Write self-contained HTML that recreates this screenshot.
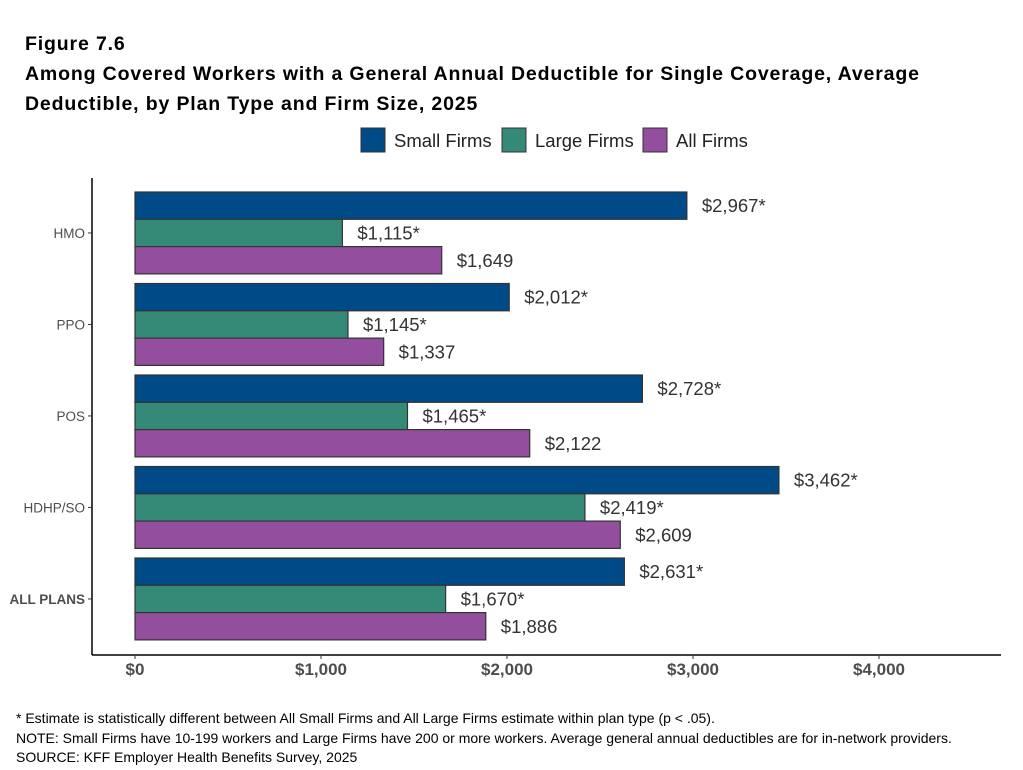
<!DOCTYPE html>
<html><head><meta charset="utf-8"><style>
body{margin:0;background:#fff;font-family:"Liberation Sans",Arial,sans-serif;}
#wrap{position:relative;width:1023px;height:770px;overflow:hidden;}
.t{position:absolute;left:25px;font-weight:bold;font-size:19.5px;letter-spacing:0.85px;color:#000;}
.note{position:absolute;left:16px;font-size:14px;color:#000;}
</style></head><body>
<div id="wrap">
<div class="t" style="top:33px">Figure 7.6</div>
<div class="t" style="top:63px">Among Covered Workers with a General Annual Deductible for Single Coverage, Average</div>
<div class="t" style="top:93px">Deductible, by Plan Type and Firm Size, 2025</div>
<svg id="chart" width="1023" height="770" style="position:absolute;left:0;top:0"></svg>
<div class="note" style="top:710px">* Estimate is statistically different between All Small Firms and All Large Firms estimate within plan type (p &lt; .05).</div>
<div class="note" style="top:730px">NOTE: Small Firms have 10-199 workers and Large Firms have 200 or more workers. Average general annual deductibles are for in-network providers.</div>
<div class="note" style="top:749px">SOURCE: KFF Employer Health Benefits Survey, 2025</div>
</div>
<script>
const categories=["HMO","PPO","POS","HDHP/SO","ALL PLANS"];
const seriesNames=["Small Firms","Large Firms","All Firms"];
const small=[2967,2012,2728,3462,2631];
const large=[1115,1145,1465,2419,1670];
const all=[1649,1337,2122,2609,1886];
const smallSig=[true,true,true,true,true];
const largeSig=[true,true,true,true,true];
const allSig=[false,false,false,false,false];
const xTicks=[0,1000,2000,3000,4000];
const xTickLabels=["$0","$1,000","$2,000","$3,000","$4,000"];
const colors=["#004a87","#348a77","#934f9e"];
const NS="http://www.w3.org/2000/svg";
const svg=document.getElementById('chart');
const x0=135,pxPer=0.186;
const xs=v=>x0+v*pxPer;
const top0=192,pitch=91.5,barH=27.3;
function mk(t,a){const e=document.createElementNS(NS,t);for(const k in a)e.setAttribute(k,a[k]);svg.appendChild(e);return e;}
let ax=mk('line',{x1:92,y1:178,x2:92,y2:655,stroke:'#000','stroke-width':1.5});


ax=mk('line',{x1:92,y1:655,x2:1001,y2:655,stroke:'#000','stroke-width':1.5});


xTicks.forEach((v,i)=>{
 const tk=mk('line',{x1:xs(v),y1:655,x2:xs(v),y2:659,stroke:'#333'});
 
 
 const t=mk('text',{x:xs(v),y:675,'text-anchor':'middle','font-size':17,'font-weight':'bold',fill:'#4d4d4d'});
 t.textContent=xTickLabels[i];
 
 
});
const series=[small,large,all],sigs=[smallSig,largeSig,allSig];
const fmt=v=>'$'+v.toLocaleString('en-US');
categories.forEach((c,i)=>{
 const gt=top0+i*pitch;
 const cy=gt+barH*1.5;
 const tk=mk('line',{x1:88,y1:cy,x2:92,y2:cy,stroke:'#333'});
 
 
 const t=mk('text',{x:85,y:cy+5,'text-anchor':'end','font-size':13.5,fill:'#4d4d4d','font-weight':i==4?'bold':'normal'});
 t.textContent=c;
 
 
 series.forEach((s,j)=>{
  const y=gt+j*barH;
  const r=mk('rect',{x:x0,y:y,width:xs(s[i])-x0,height:barH,fill:colors[j],stroke:'#333','stroke-width':1.2});
  
  
  const l=mk('text',{x:xs(s[i])+15,y:y+barH/2+6.5,'font-size':18.5,fill:'#333'});
  l.textContent=fmt(s[i])+(sigs[j][i]?'*':'');
  
  
 });
});
const legX=[361,502,643];
seriesNames.forEach((n,j)=>{
 const r=mk('rect',{x:legX[j],y:128,width:24,height:24,fill:colors[j],stroke:'#333'});
 
 
 const t=mk('text',{x:legX[j]+33,y:147,'font-size':18.5,fill:'#222'});
 t.textContent=n;
 
 
});
</script>
</body></html>
